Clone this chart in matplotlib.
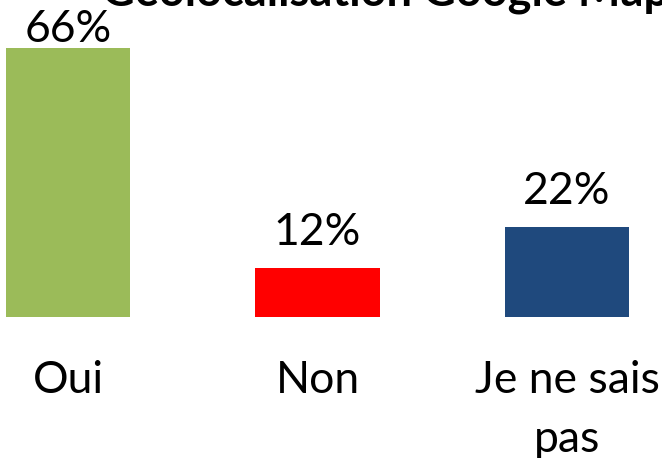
import matplotlib.pyplot as plt

categories = ['Oui', 'Non', 'Je ne sais\npas']
values = [66, 12, 22]
colors = ['#9BBB59', '#FF0000', '#1F497D']
title = 'Géolocalisation Google Maps'

plt.rcParams['font.family'] = ['Lato', 'DejaVu Sans']

fig = plt.figure(figsize=(6.62, 4.58), dpi=100)
# axes spans the full width; bottom of bars at y=317px, 4.08 px per percent
ax = fig.add_axes([0, (458 - 317) / 458, 1, 67.4 * 4.08 / 458])

x = range(len(categories))
ax.bar(x, values, width=0.5, color=colors)
ax.set_xlim(-0.2725, 2.381)
ax.set_ylim(0, 67.4)

for i, v in enumerate(values):
    ax.text(i, min(v + 5.6, 67.4), '{0}%'.format(v), ha='center', va='baseline',
            fontsize=32)

ax.set_xticks(list(x))
ax.set_xticklabels(categories, fontsize=32, linespacing=1.55)
ax.tick_params(axis='x', length=0, pad=31)
ax.set_yticks([])
for s in ax.spines.values():
    s.set_visible(False)

fig.text(102 / 662, 1 - 6 / 458, title, ha='left', va='baseline',
         fontsize=32.5, fontweight='bold')

fig.savefig('out.png', dpi=100)
